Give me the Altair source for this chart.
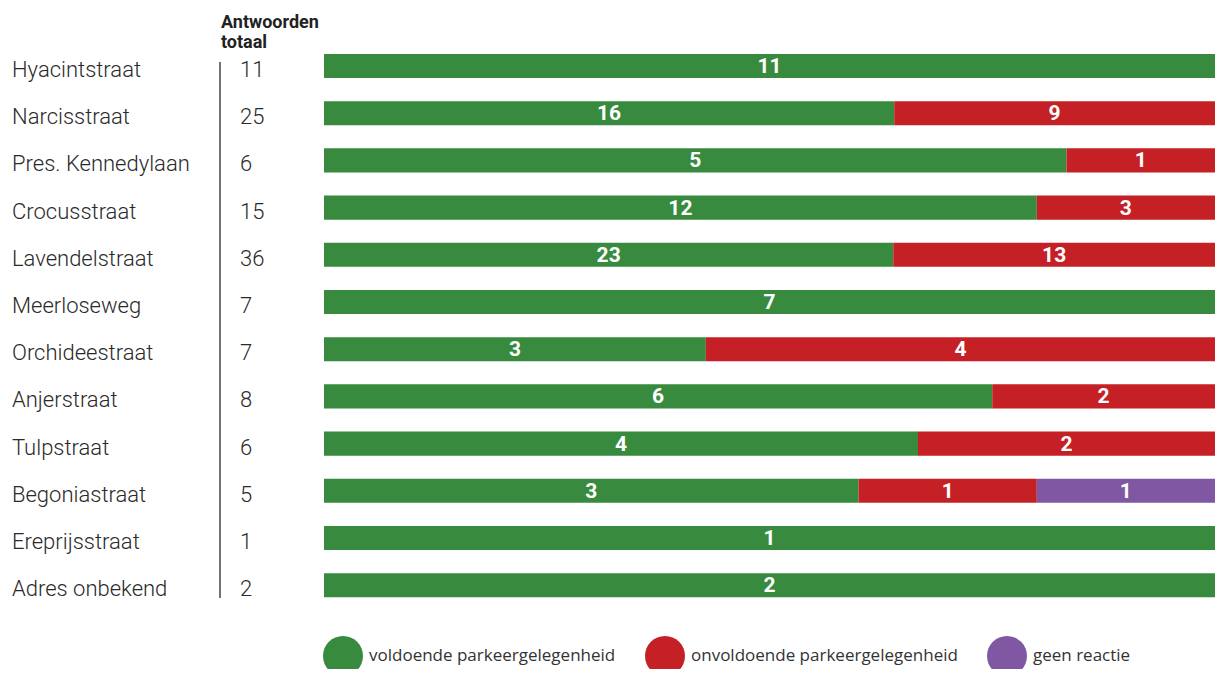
import altair as alt
import pandas as pd

streets = ["Hyacintstraat", "Narcisstraat", "Pres. Kennedylaan", "Crocusstraat",
           "Lavendelstraat", "Meerloseweg", "Orchideestraat", "Anjerstraat",
           "Tulpstraat", "Begoniastraat", "Ereprijsstraat", "Adres onbekend"]
totals = [11, 25, 6, 15, 36, 7, 7, 8, 6, 5, 1, 2]
voldoende = [11, 16, 5, 12, 23, 7, 3, 6, 4, 3, 1, 2]
onvoldoende = [0, 9, 1, 3, 13, 0, 4, 2, 2, 1, 0, 0]
geen_reactie = [0, 0, 0, 0, 0, 0, 0, 0, 0, 1, 0, 0]
categories = ["voldoende parkeergelegenheid", "onvoldoende parkeergelegenheid", "geen reactie"]
colors = ["#388a3f", "#c42026", "#7f57a3"]
header_lines = ["Antwoorden", "totaal"]

rows = []
for i, s in enumerate(streets):
    for k, vals in enumerate([voldoende, onvoldoende, geen_reactie]):
        rows.append({"street": s, "category": categories[k], "order": k, "value": vals[i]})
df = pd.DataFrame(rows)
tot_df = pd.DataFrame({"street": streets, "total": totals})

FONT = "Roboto"
yscale = alt.Scale(domain=streets, range=[34.4, 600.8], paddingInner=0.49, paddingOuter=0.245)
xscale = alt.Scale(domain=[0, 1], range=[316, 1207])

base = (alt.Chart(df)
        .transform_filter("datum.value > 0")
        .transform_joinaggregate(sumv="sum(value)", groupby=["street"])
        .transform_window(cum="sum(value)", sort=[{"field": "order"}], groupby=["street"], frame=[None, 0])
        .transform_calculate(x0="(datum.cum - datum.value) / datum.sumv",
                             x1="datum.cum / datum.sumv",
                             xm="(datum.cum - datum.value / 2) / datum.sumv"))

bars = base.mark_bar().encode(
    x=alt.X("x0:Q", scale=xscale, axis=None),
    x2="x1:Q",
    y=alt.Y("street:N", scale=yscale, axis=None),
    color=alt.Color("category:N", scale=alt.Scale(domain=categories, range=colors),
                    legend=alt.Legend(title=None, orient="none", legendX=315, legendY=628,
                                      direction="horizontal", symbolType="circle",
                                      symbolSize=1600, symbolStrokeWidth=0, labelFont="Open Sans",
                                      labelFontSize=17, labelColor="#333333", labelOffset=6,
                                      labelLimit=0, columnPadding=29, padding=0, symbolOpacity=1)),
)

bar_text = base.mark_text(font=FONT, fontSize=21, fontWeight="bold", color="white",
                          baseline="middle", align="center", dy=1).encode(
    x=alt.X("xm:Q", scale=xscale, axis=None),
    y=alt.Y("street:N", scale=yscale, axis=None),
    text="value:Q",
)

names = alt.Chart(tot_df).mark_text(font=FONT, fontSize=22, fontWeight=300, color="#2a2a2a",
                                     align="left", baseline="middle", dy=4).encode(
    x=alt.value(4),
    y=alt.Y("street:N", scale=yscale, axis=None),
    text="street:N",
)

tot_text = alt.Chart(tot_df).mark_text(font=FONT, fontSize=22, fontWeight=300, color="#2a2a2a",
                                        align="left", baseline="middle", dy=4).encode(
    x=alt.value(232),
    y=alt.Y("street:N", scale=yscale, axis=None),
    text="total:Q",
)

vline = alt.Chart(alt.Data(values=[{}])).mark_rule(color="#444444", strokeWidth=1.5).encode(
    x=alt.value(212), y=alt.value(54), y2=alt.value(590))

header = alt.Chart(alt.Data(values=[{}])).mark_text(
    text=header_lines, font=FONT, fontSize=18, fontWeight="bold", color="#222222",
    align="left", baseline="alphabetic", lineHeight=20).encode(
    x=alt.value(213), y=alt.value(20))

chart = alt.layer(bars, bar_text, names, tot_text, vline, header).properties(
    width=1207, height=661, autosize=alt.AutoSizeParams(type="none"), padding=0
).configure_view(stroke=None)

chart.save("out.html", embed_options={"renderer": "svg", "actions": False})
